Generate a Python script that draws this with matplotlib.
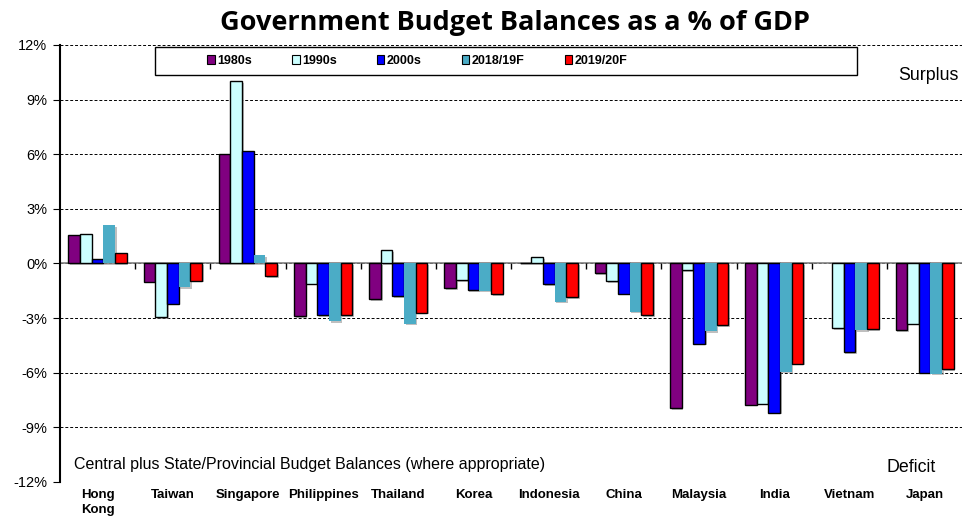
import matplotlib
matplotlib.use("Agg")
import matplotlib.pyplot as plt
import matplotlib.patheffects as pe
from matplotlib.patches import Rectangle, Patch
import numpy as np

countries = ["Hong\nKong", "Taiwan", "Singapore", "Philippines", "Thailand", "Korea",
             "Indonesia", "China", "Malaysia", "India", "Vietnam", "Japan"]
series = ["1980s", "1990s", "2000s", "2018/19F", "2019/20F"]

v1980s = [1.55, -1.0, 6.0, -2.9, -1.95, -1.35, 0.05, -0.55, -7.95, -7.75, np.nan, -3.65]
v1990s = [1.6, -2.95, 10.0, -1.1, 0.73, -0.9, 0.35, -0.97, -0.35, -7.7, -3.55, -3.3]
v2000s = [0.25, -2.2, 6.2, -2.85, -1.78, -1.45, -1.15, -1.65, -4.4, -8.2, -4.87, -6.0]
v2018 = [2.1, -1.3, 0.45, -3.15, -3.3, -1.5, -2.1, -2.65, -3.7, -5.95, -3.65, -6.05]
v2019 = [0.6, -0.95, -0.7, -2.85, -2.7, -1.7, -1.85, -2.85, -3.4, -5.5, -3.6, -5.8]

colors = ["#800080", "#CCFFFF", "#0000FF", "#4BACC6", "#FF0000"]
edges = ["black", "black", "black", "none", "black"]

fig = plt.figure(figsize=(9.64, 5.2), dpi=100)
ax = fig.add_axes([0.0622, 0.0731, 0.936, 0.8404])

x = np.arange(len(countries))
w = 0.155
shadow = [pe.SimplePatchShadow(offset=(1.2, -1.2), shadow_rgbFace="gray", alpha=0.5), pe.Normal()]
for i, vals in enumerate([v1980s, v1990s, v2000s, v2018, v2019]):
    bars = ax.bar(x + (i - 2) * w, vals, w, color=colors[i], edgecolor=edges[i],
                  linewidth=1.0, zorder=3)
    for b in bars:
        b.set_path_effects(shadow)

ax.set_xlim(-0.5, len(countries) - 0.5)
ax.set_ylim(-12, 12)
ax.set_yticks(np.arange(-12, 13, 3))
ax.set_yticklabels([f"{t}%" for t in range(-12, 13, 3)], fontsize=10.5, family="Liberation Sans")
ax.yaxis.grid(True, linestyle=(0, (3, 2)), color="black", linewidth=0.7)
ax.set_axisbelow(True)
ax.tick_params(axis="y", length=5, width=0.8, pad=4)
ax.axhline(0, color="gray", linewidth=1.2, zorder=2)
ax.plot(x[1:] - 0.5, np.zeros(len(x) - 1), linestyle="none", marker=3, color="black",
        markersize=4, markeredgewidth=1, zorder=2)

ax.set_xticks(x)
ax.set_xticklabels(countries, fontsize=9.5, fontweight="bold", va="top",
                   family="Liberation Sans", linespacing=1.3)
ax.tick_params(axis="x", length=0, pad=5)

for s in ["top", "right", "bottom"]:
    ax.spines[s].set_visible(False)
ax.spines["left"].set_linewidth(1.5)

# legend box
ax.add_patch(Rectangle((0.105, 0.932), 0.778, 0.063, transform=ax.transAxes,
                       facecolor="white", edgecolor="black", linewidth=1.0, zorder=4))
handles = [Patch(facecolor=c, edgecolor="black", linewidth=0.8) for c in colors]
leg = ax.legend(handles, series, ncol=5, loc="center left", bbox_to_anchor=(0.151, 0.9635),
                frameon=False, handlelength=0.6, handleheight=0.7, handletextpad=0.2,
                columnspacing=3.2, prop={"weight": "bold", "size": 9, "family": "Liberation Sans"})
leg.set_zorder(5)

ax.text(0.996, 0.93, "Surplus", transform=ax.transAxes, ha="right", va="center",
        fontsize=12.8, family="Liberation Sans")
ax.text(0.971, 0.033, "Deficit", transform=ax.transAxes, ha="right", va="center",
        fontsize=12.8, family="Liberation Sans")
ax.text(0.016, 0.04, "Central plus State/Provincial Budget Balances (where appropriate)",
        transform=ax.transAxes, ha="left", va="center", fontsize=11.5,
        family="Liberation Sans")

fig.text(0.534, 0.955, "Government Budget Balances as a % of GDP", ha="center", va="center",
         fontsize=19.5, fontweight="bold", family="Open Sans")

fig.savefig("out.png", dpi=100)
